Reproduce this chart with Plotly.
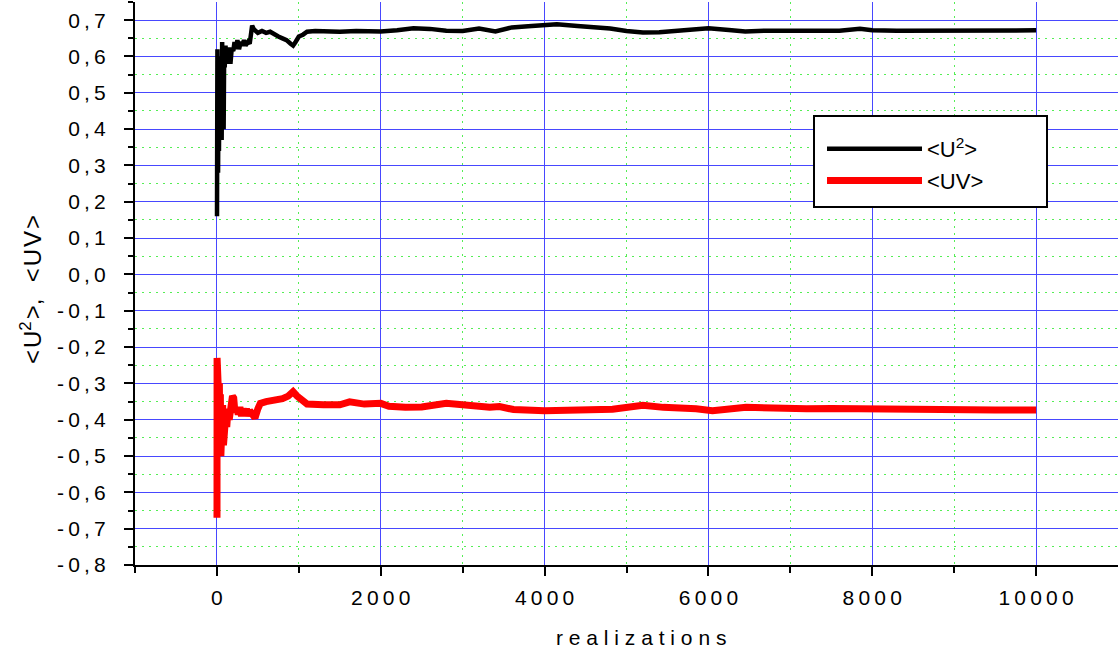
import plotly.graph_objects as go

# ---- data ----
u2_x = [1, 2, 4, 6, 8, 10, 14, 18, 25, 32,
        38, 45, 52, 58, 64, 70, 76, 82, 88, 95,
        105, 115, 125, 135, 150, 165, 180, 200, 215, 230,
        250, 270, 290, 310, 330, 350, 380, 400, 415, 430,
        450, 500, 550, 600, 650, 700, 750, 800, 850, 900,
        930, 960, 1000, 1050, 1100, 1200, 1350, 1500, 1700, 1900,
        2000, 2200, 2400, 2600, 2800, 3000, 3200, 3400, 3600, 3800,
        4000, 4150, 4400, 4600, 4800, 5000, 5200, 5400, 5650, 5850,
        6000, 6250, 6450, 6700, 7000, 7300, 7600, 7850, 8000, 8300,
        8600, 8800, 9100, 9400, 9700, 10000]
u2_y = [0.16, 0.60, 0.22, 0.62, 0.30, 0.55, 0.28, 0.45, 0.34, 0.55,
        0.45, 0.38, 0.60, 0.37, 0.64, 0.50, 0.62, 0.40, 0.60, 0.57,
        0.63, 0.58, 0.62, 0.60, 0.625, 0.58, 0.62, 0.615, 0.64, 0.62,
        0.645, 0.62, 0.64, 0.63, 0.645, 0.63, 0.64, 0.635, 0.66, 0.685,
        0.675, 0.665, 0.67, 0.665, 0.668, 0.66, 0.655, 0.65, 0.645, 0.635,
        0.63, 0.64, 0.655, 0.66, 0.668, 0.67, 0.669, 0.668, 0.67, 0.669,
        0.669, 0.672, 0.678, 0.676, 0.671, 0.670, 0.677, 0.669, 0.680, 0.683,
        0.685, 0.689, 0.684, 0.681, 0.677, 0.670, 0.666, 0.667, 0.671, 0.675,
        0.678, 0.673, 0.669, 0.671, 0.671, 0.671, 0.671, 0.676, 0.672, 0.671,
        0.671, 0.669, 0.669, 0.669, 0.672, 0.672]

uv_x = [1, 2, 4, 6, 8, 10, 14, 18, 24, 30,
        36, 42, 48, 55, 62, 70, 80, 90, 100, 110,
        120, 135, 150, 170, 190, 205, 220, 240, 260, 280,
        300, 320, 340, 360, 380, 400, 430, 465, 500, 530,
        600, 700, 800, 870, 930, 980, 1050, 1100, 1300, 1500,
        1620, 1800, 2000, 2100, 2300, 2500, 2800, 3000, 3330, 3450,
        3620, 4000, 4430, 4830, 5200, 5450, 5850, 6050, 6460, 6870,
        7200, 7500, 7960, 8350, 8800, 9000, 9500, 10000]
uv_y = [-0.67, -0.23, -0.60, -0.25, -0.55, -0.30, -0.50, -0.32, -0.45, -0.30,
        -0.48, -0.33, -0.50, -0.38, -0.46, -0.36, -0.47, -0.40, -0.44, -0.38,
        -0.42, -0.37, -0.40, -0.35, -0.335, -0.34, -0.38, -0.37, -0.385, -0.365,
        -0.39, -0.37, -0.385, -0.37, -0.39, -0.375, -0.385, -0.395, -0.37, -0.355,
        -0.35, -0.348, -0.342, -0.335, -0.323, -0.335, -0.35, -0.357, -0.359, -0.359,
        -0.351, -0.357, -0.355, -0.363, -0.366, -0.365, -0.355, -0.360, -0.366, -0.364,
        -0.372, -0.375, -0.375, -0.371, -0.360, -0.366, -0.370, -0.375, -0.366, -0.370,
        -0.370, -0.369, -0.370, -0.375, -0.374, -0.373, -0.373, -0.373]

x_tick_vals = [0, 2000, 4000, 6000, 8000, 10000]
x_tick_labels = ["0", "2000", "4000", "6000", "8000", "10000"]
x_minor_vals = [-1000, 1000, 3000, 5000, 7000, 9000]
y_tick_vals = [0.7, 0.6, 0.5, 0.4, 0.3, 0.2, 0.1, 0.0,
               -0.1, -0.2, -0.3, -0.4, -0.5, -0.6, -0.7, -0.8]
y_tick_labels = ["0,7", "0,6", "0,5", "0,4", "0,3", "0,2", "0,1", "0,0",
                 "-0,1", "-0,2", "-0,3", "-0,4", "-0,5", "-0,6", "-0,7", "-0,8"]
y_minor_vals = [0.75, 0.65, 0.55, 0.45, 0.35, 0.25, 0.15, 0.05, -0.05, -0.15,
                -0.25, -0.35, -0.45, -0.55, -0.65, -0.75]

name_u2 = "&lt;U<sup>2</sup>&gt;"
name_uv = "&lt;UV&gt;"
x_title = "realizations"

TS = "\u2009"  # thin space to mimic the wide letter spacing
HS = "\u200a"  # hair space


def spaced(s, sep=TS):
    return sep.join(list(s))


y_title = (HS.join(["&lt;", "U<sup>2</sup>", "&gt;"]) + "," + TS + TS + " "
           + HS.join(["&lt;", "U", "V", "&gt;"]))

FONT = "Liberation Sans, Arial, sans-serif"

# plot area in pixels (used only for placing the legend frame / titles)
W, H = 1118, 657
ML, MR, MT, MB = 135, 0, 2, 92
PW, PH = W - ML - MR, H - MT - MB


def px(xp):
    return (xp - ML) / PW


def py(yp):
    return (H - MB - yp) / PH


fig = go.Figure()
fig.add_trace(go.Scatter(x=u2_x, y=u2_y, mode="lines", name=name_u2,
                         line=dict(color="black", width=4.5)))
fig.add_trace(go.Scatter(x=uv_x, y=uv_y, mode="lines", name=name_uv,
                         line=dict(color="#ff0000", width=7)))

major_grid = "#4848ff"
minor_grid = "#55ee55"
dot_pattern = "2px,5px"

fig.update_layout(
    width=W, height=H,
    margin=dict(l=ML, r=MR, t=MT, b=MB, pad=0, autoexpand=False),
    paper_bgcolor="white", plot_bgcolor="white",
    font=dict(family=FONT, size=21, color="black"),
    showlegend=True,
    legend=dict(x=px(822), y=py(128), xanchor="left", yanchor="top",
                bgcolor="rgba(0,0,0,0)", borderwidth=0,
                font=dict(family=FONT, size=22, color="black"),
                itemwidth=95),
    shapes=[dict(type="rect", xref="paper", yref="paper",
                 x0=px(814), x1=px(1047), y0=py(207), y1=py(116),
                 line=dict(color="black", width=2), fillcolor="white",
                 layer="above")],
    xaxis=dict(
        range=[-1000, 11000], showline=True, linecolor="black", linewidth=2,
        automargin=False,
        ticks="outside", ticklen=9, tickwidth=2, tickcolor="black",
        tickmode="array", tickvals=x_tick_vals,
        ticktext=[spaced(t) for t in x_tick_labels],
        ticklabelstandoff=4,
        showgrid=True, gridcolor=major_grid, gridwidth=1, zeroline=False,
        minor=dict(tickvals=x_minor_vals, ticks="outside", ticklen=6,
                   tickwidth=2, tickcolor="black", showgrid=True,
                   gridcolor=minor_grid, griddash=dot_pattern, gridwidth=1),
    ),
    yaxis=dict(
        range=[-0.8, 0.75], showline=True, linecolor="black", linewidth=2,
        automargin=False,
        ticks="outside", ticklen=9, tickwidth=2, tickcolor="black",
        tickmode="array", tickvals=y_tick_vals,
        ticktext=[spaced(t) for t in y_tick_labels],
        ticklabelstandoff=14,
        showgrid=True, gridcolor=major_grid, gridwidth=1, zeroline=False,
        minor=dict(tickvals=y_minor_vals, ticks="outside", ticklen=5,
                   tickwidth=2, tickcolor="black", showgrid=True,
                   gridcolor=minor_grid, griddash=dot_pattern, gridwidth=1),
    ),
    annotations=[
        dict(text=spaced(x_title, " "), xref="paper", yref="paper",
             x=px(641), y=py(637), xanchor="center", yanchor="middle",
             showarrow=False, font=dict(family=FONT, size=21, color="black")),
        dict(text=y_title, xref="paper", yref="paper",
             x=px(31), y=py(290), xanchor="center", yanchor="middle",
             textangle=-90, showarrow=False,
             font=dict(family=FONT, size=24, color="black")),
    ],
)

fig.write_html("out.html", config={"displayModeBar": False},
               post_script="document.body.style.margin='0';document.body.style.overflow='hidden';")
